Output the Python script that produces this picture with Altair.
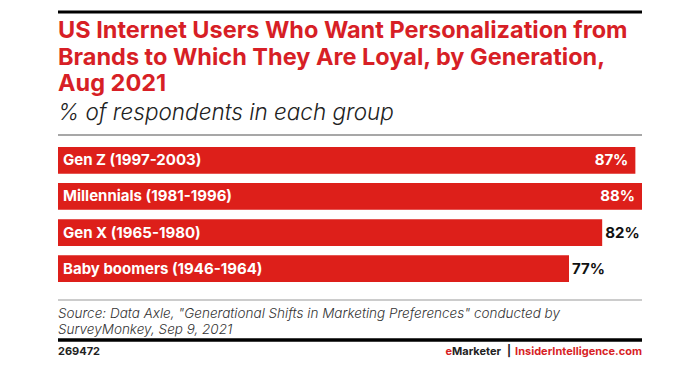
import altair as alt
import pandas as pd

categories = ["Gen Z (1997-2003)", "Millennials (1981-1996)", "Gen X (1965-1980)", "Baby boomers (1946-1964)"]
values = [87, 88, 82, 77]
inside = [True, True, False, False]

title_lines = ["US Internet Users Who Want Personalization from",
               "Brands to Which They Are Loyal, by Generation,",
               "Aug 2021"]
subtitle = "% of respondents in each group"
source_lines = ['Source: Data Axle, "Generational Shifts in Marketing Preferences" conducted by',
                "SurveyMonkey, Sep 9, 2021"]
chart_id = "269472"

RED = "#dd1f1a"
TRED = "#d71f26"
FONT = "Inter"

df = pd.DataFrame({"cat": categories, "val": values, "inside": inside,
                   "lab": [f"{v}%" for v in values]})

W, H = 584, 135
y_enc = alt.Y("cat:N", sort=categories, axis=None,
              scale=alt.Scale(paddingInner=0.26, paddingOuter=0))
x_enc = alt.X("val:Q", axis=None, scale=alt.Scale(domain=[0, 88], nice=False, zero=True))

bars = alt.Chart(df).mark_bar(color=RED, cornerRadius=0).encode(x=x_enc, y=y_enc)

cat_text = alt.Chart(df).mark_text(align="left", baseline="middle", dx=5, font=FONT,
                                   fontSize=15, fontWeight="bold", color="white").encode(
    x=alt.value(0), y=y_enc, text="cat:N")

val_in = alt.Chart(df).transform_filter("datum.inside").mark_text(
    align="right", baseline="middle", dx=-7, font=FONT, fontSize=15, fontWeight="bold",
    color="white").encode(x=x_enc, y=y_enc, text="lab:N")
val_out = alt.Chart(df).transform_filter("!datum.inside").mark_text(
    align="left", baseline="middle", dx=3, font=FONT, fontSize=15, fontWeight="bold",
    color="#111111").encode(x=x_enc, y=y_enc, text="lab:N")

one = pd.DataFrame({"a": [0]})

def rule(y, color, sw):
    return alt.Chart(one).mark_rule(color=color, strokeWidth=sw).encode(
        x=alt.value(0), x2=alt.value(W), y=alt.value(y))

def txt(s, x, y, size, color, weight="normal", style="normal", align="left"):
    return alt.Chart(pd.DataFrame({"t": [s]})).mark_text(
        align=align, baseline="alphabetic", font=FONT, fontSize=size, fontWeight=weight,
        fontStyle=style, color=color).encode(x=alt.value(x), y=alt.value(y), text="t:N")

layers = [bars, cat_text, val_in, val_out,
          rule(-135, "#000000", 3),
          rule(-12, "#8a8a8a", 1.5),
          rule(153, "#999999", 1),
          rule(193, "#000000", 3.5)]
for i, line in enumerate(title_lines):
    layers.append(txt(line, 0, -109 + 26.5 * i, 23.5, TRED, weight="bold"))
layers.append(txt(subtitle, 0, -27, 22.5, "#222222", weight=300, style="italic"))
for i, line in enumerate(source_lines):
    layers.append(txt(line, 0, 171 + 16 * i, 13.5, "#333333", weight=300, style="italic"))
layers.append(txt(chart_id, 0, 208, 11, "#222222", weight="bold"))
layers.append(txt("InsiderIntelligence.com", W, 208, 11, TRED, weight="bold", align="right"))
layers.append(txt("|", 451, 208, 11, "#222222", weight="bold", align="center"))
layers.append(txt("Marketer", 394, 208, 11, "#222222", weight="bold", align="left"))
layers.append(txt("e", 394, 208, 11, TRED, weight="bold", align="right"))

chart = alt.layer(*layers).properties(
    width=W, height=H,
    autosize=alt.AutoSizeParams(type="none"),
    padding={"left": 50, "top": 139, "right": 40, "bottom": 80},
    background="white",
).configure_view(stroke=None)

chart.save("out.html", embed_options={"renderer": "svg", "actions": False})
